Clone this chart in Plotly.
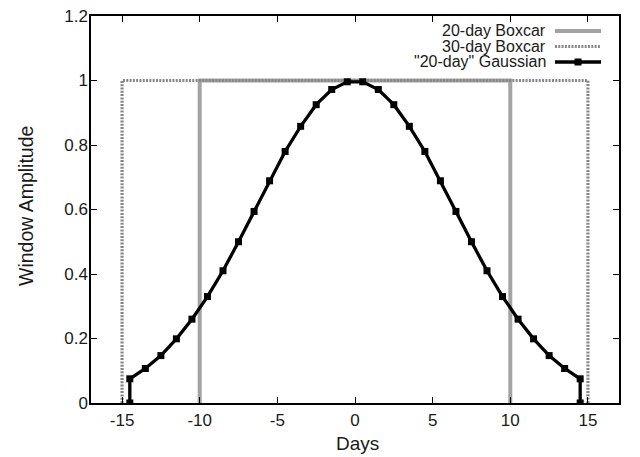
import plotly.graph_objects as go

# ---- data ----
box20_x = [-10, -10, 10, 10]
box20_y = [0, 1, 1, 0]
box30_x = [-15, -15, 15, 15]
box30_y = [0, 1, 1, 0]
gauss_x = [-14.5, -14.5, -13.5, -12.5, -11.5, -10.5, -9.5, -8.5, -7.5, -6.5, -5.5,
           -4.5, -3.5, -2.5, -1.5, -0.5, 0.5, 1.5, 2.5, 3.5, 4.5, 5.5, 6.5, 7.5,
           8.5, 9.5, 10.5, 11.5, 12.5, 13.5, 14.5, 14.5]
gauss_y = [0, 0.075, 0.107, 0.147, 0.199, 0.26, 0.33, 0.41, 0.50, 0.594, 0.689,
           0.78, 0.858, 0.925, 0.972, 0.996, 0.996, 0.972, 0.925, 0.858, 0.78,
           0.689, 0.594, 0.50, 0.41, 0.33, 0.26, 0.199, 0.147, 0.107, 0.075, 0]
series_names = ["20-day Boxcar", "30-day Boxcar", "\"20-day\" Gaussian"]
x_ticks = [-15, -10, -5, 0, 5, 10, 15]
x_tick_text = ["-15", "-10", "-5", "0", "5", "10", "15"]
y_ticks = [0, 0.2, 0.4, 0.6, 0.8, 1, 1.2]
y_tick_text = ["0", "0.2", "0.4", "0.6", "0.8", "1", "1.2"]

GRAY1 = "#a3a3a3"
GRAY2 = "#878787"
DOT = "2px,1.3px"
FONT = "Liberation Sans, Arial, sans-serif"
TXT = "#1a1a1a"

fig = go.Figure()
fig.add_trace(go.Scatter(x=box20_x, y=box20_y, mode="lines", name=series_names[0],
                         line=dict(color=GRAY1, width=4), showlegend=False))
fig.add_trace(go.Scatter(x=box30_x, y=box30_y, mode="lines", name=series_names[1],
                         line=dict(color=GRAY2, width=3.2, dash=DOT), showlegend=False))
fig.add_trace(go.Scatter(x=gauss_x, y=gauss_y, mode="lines+markers", name=series_names[2],
                         line=dict(color="black", width=3.3),
                         marker=dict(symbol="square", size=7, color="black"),
                         showlegend=False))

OFF = 8  # page body margin
W, H = 640 - OFF, 457 - OFF
L, R, T, B = 91 - OFF, 21, 16 - OFF, 54
pw, ph = W - L - R, H - T - B

def px2paper_x(px):
    return (px - OFF - L) / pw

def px2paper_y(py):
    return 1 - (py - OFF - T) / ph

shapes = []
annotations = []
rows_y = [31, 46.5, 62]
x_text = 547
x0s, x1s = 555, 601
styles = [dict(color=GRAY1, width=4), dict(color=GRAY2, width=3.2, dash=DOT),
          dict(color="black", width=3.3)]
for name, ry, st in zip(series_names, rows_y, styles):
    annotations.append(dict(x=px2paper_x(x_text), y=px2paper_y(ry), xref="paper", yref="paper",
                            text=name, showarrow=False, xanchor="right", yanchor="middle",
                            borderpad=0,
                            font=dict(family=FONT, size=16, color=TXT)))
    shapes.append(dict(type="line", xref="paper", yref="paper",
                       x0=px2paper_x(x0s), x1=px2paper_x(x1s),
                       y0=px2paper_y(ry), y1=px2paper_y(ry), line=st))
mx = (x0s + x1s) / 2
shapes.append(dict(type="rect", xref="paper", yref="paper",
                   x0=px2paper_x(mx - 3.5), x1=px2paper_x(mx + 3.5),
                   y0=px2paper_y(rows_y[2] + 3.5), y1=px2paper_y(rows_y[2] - 3.5),
                   fillcolor="black", line=dict(width=0)))

annotations.append(dict(x=px2paper_x(357), y=px2paper_y(444), xref="paper", yref="paper",
                        text="Days", showarrow=False, xanchor="center", yanchor="middle",
                        font=dict(family=FONT, size=19, color=TXT)))
annotations.append(dict(x=px2paper_x(26), y=px2paper_y(206), xref="paper", yref="paper",
                        text="Window Amplitude", showarrow=False, textangle=-90,
                        xanchor="center", yanchor="middle",
                        font=dict(family=FONT, size=19.5, color=TXT)))

axis_common = dict(showline=True, linecolor="black", linewidth=1.5, mirror="ticks",
                   ticks="inside", ticklen=6, tickwidth=1, tickcolor="black",
                   showgrid=False, zeroline=False, ticklabeloverflow="allow",
                   tickfont=dict(family=FONT, size=17, color=TXT))
fig.update_layout(
    width=W, height=H,
    margin=dict(l=L, r=R, t=T, b=B, autoexpand=False),
    plot_bgcolor="white", paper_bgcolor="white",
    xaxis=dict(range=[-17, 17], tickvals=x_ticks, ticktext=x_tick_text,
               ticklabelstandoff=1, **axis_common),
    yaxis=dict(range=[0, 1.2], tickvals=y_ticks, ticktext=y_tick_text,
               ticklabelstandoff=-2, **axis_common),
    shapes=shapes, annotations=annotations,
)
fig.write_html("out.html")
